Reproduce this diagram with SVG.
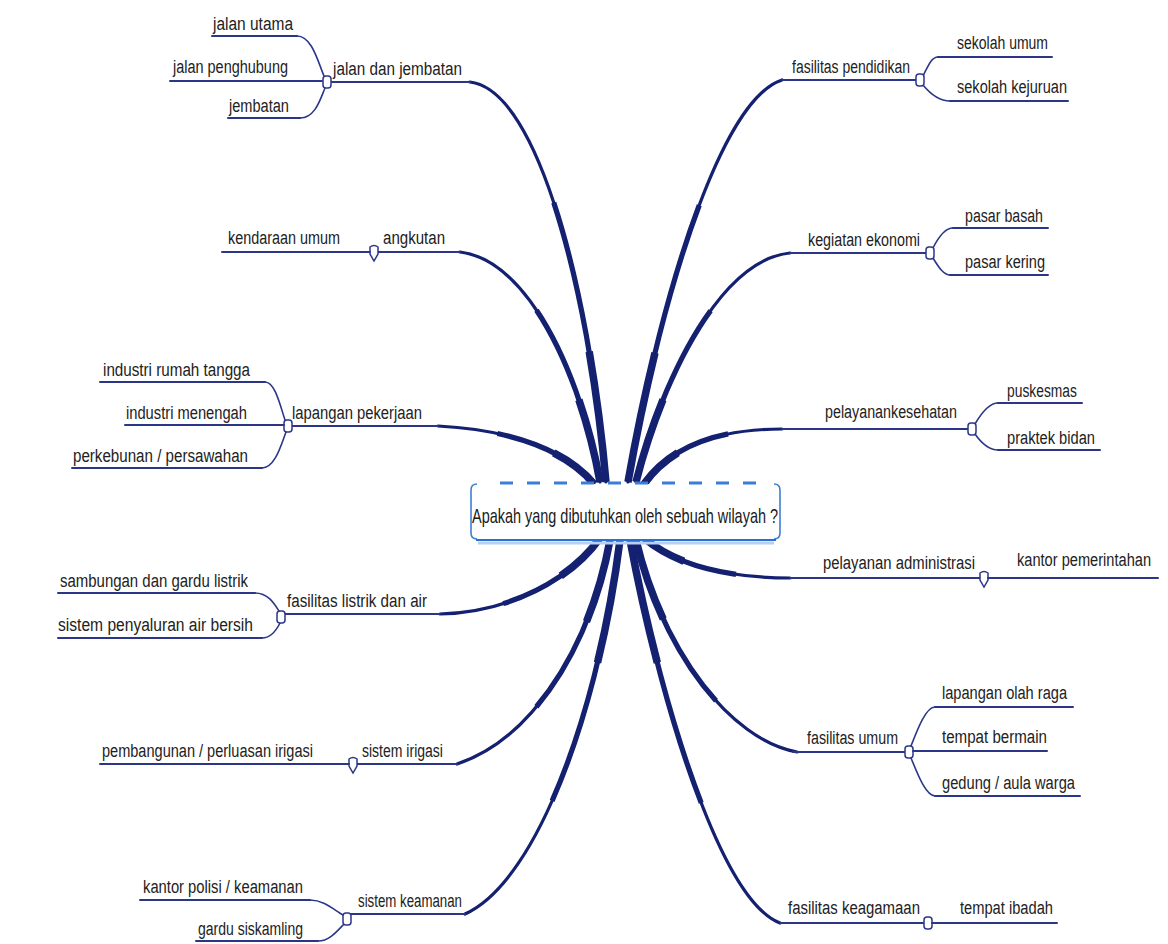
<svg xmlns="http://www.w3.org/2000/svg" width="1168" height="944" viewBox="0 0 1168 944">
<style>
.t{font-family:"Liberation Sans",Arial,sans-serif;font-size:19px;fill:#222;}
.c{font-family:"Liberation Sans",Arial,sans-serif;font-size:20px;fill:#1a1a1a;}
.u{fill:none;stroke:#2c3689;stroke-width:2;stroke-linecap:round;}
.k{fill:none;stroke:#2c3689;stroke-width:1.6;stroke-linecap:round;}
.cn{fill:#fff;stroke:#2c3689;stroke-width:1.5;}
.b1 path{fill:none;stroke:#142070;stroke-width:3.2;stroke-linecap:round;}
.b2 path{fill:none;stroke:#142070;stroke-width:5.2;stroke-dasharray:0 35 65 0;}
.b3 path{fill:none;stroke:#142070;stroke-width:7.5;stroke-dasharray:0 70 30 0;}
</style>
<rect width="1168" height="944" fill="#fff"/>
<g id="connectors">
<g class="b1">
<path d="M470,82 C540,90 590,300 606,482"/>
<path d="M460,252 C530,260 582,380 600,482"/>
<path d="M438,426 C520,430 570,455 594,484"/>
<path d="M440,614 C510,612 570,580 600,538"/>
<path d="M457,764 C530,740 590,650 610,540"/>
<path d="M465,914 C540,880 600,700 620,540"/>
<path d="M782,80 C720,100 660,300 628,482"/>
<path d="M790,253 C720,260 662,380 636,482"/>
<path d="M782,429 C720,429 672,445 644,484"/>
<path d="M790,578 C720,578 672,562 644,538"/>
<path d="M797,752 C730,740 662,650 636,540"/>
<path d="M780,923 C720,900 660,700 630,540"/>
</g>
<g class="b2">
<path pathLength="100" d="M470,82 C540,90 590,300 606,482"/>
<path pathLength="100" d="M460,252 C530,260 582,380 600,482"/>
<path pathLength="100" d="M438,426 C520,430 570,455 594,484"/>
<path pathLength="100" d="M440,614 C510,612 570,580 600,538"/>
<path pathLength="100" d="M457,764 C530,740 590,650 610,540"/>
<path pathLength="100" d="M465,914 C540,880 600,700 620,540"/>
<path pathLength="100" d="M782,80 C720,100 660,300 628,482"/>
<path pathLength="100" d="M790,253 C720,260 662,380 636,482"/>
<path pathLength="100" d="M782,429 C720,429 672,445 644,484"/>
<path pathLength="100" d="M790,578 C720,578 672,562 644,538"/>
<path pathLength="100" d="M797,752 C730,740 662,650 636,540"/>
<path pathLength="100" d="M780,923 C720,900 660,700 630,540"/>
</g>
<g class="b3">
<path pathLength="100" d="M470,82 C540,90 590,300 606,482"/>
<path pathLength="100" d="M460,252 C530,260 582,380 600,482"/>
<path pathLength="100" d="M438,426 C520,430 570,455 594,484"/>
<path pathLength="100" d="M440,614 C510,612 570,580 600,538"/>
<path pathLength="100" d="M457,764 C530,740 590,650 610,540"/>
<path pathLength="100" d="M465,914 C540,880 600,700 620,540"/>
<path pathLength="100" d="M782,80 C720,100 660,300 628,482"/>
<path pathLength="100" d="M790,253 C720,260 662,380 636,482"/>
<path pathLength="100" d="M782,429 C720,429 672,445 644,484"/>
<path pathLength="100" d="M790,578 C720,578 672,562 644,538"/>
<path pathLength="100" d="M797,752 C730,740 662,650 636,540"/>
<path pathLength="100" d="M780,923 C720,900 660,700 630,540"/>
</g>
<g class="k">
<path d="M297,36 C312,36 318,62 324,76"/>
<path d="M300,118 C315,118 320,100 325,88"/>
<path d="M265,382 C275,382 280,405 285,420"/>
<path d="M262,468 C275,468 281,445 286,432"/>
<path d="M255,593 C268,593 274,603 279,611"/>
<path d="M262,638 C272,638 277,629 280,623"/>
<path d="M310,900 C325,900 335,911 343,915"/>
<path d="M318,941 C330,941 338,930 345,923"/>
<path d="M923,76 C929,64 932,57 938,57"/>
<path d="M923,85 C932,96 940,101 950,101"/>
<path d="M933,248 C939,236 945,228 953,228"/>
<path d="M933,258 C939,268 944,275 950,275"/>
<path d="M975,424 C982,412 990,403 998,403"/>
<path d="M975,434 C982,444 990,450 998,450"/>
<path d="M911,746 C918,728 926,707 935,707"/>
<path d="M911,758 C918,775 926,796 935,796"/>
</g>
</g>

<g id="center">
<rect x="471" y="484" width="309" height="56" rx="6" fill="#fff"/>
<path d="M477,484 Q471,484 471,490 L471,533 Q471,539 477,539" fill="none" stroke="#3f7fcf" stroke-width="1.6"/>
<path d="M774,484 Q780,484 780,490 L780,533 Q780,539 774,539" fill="none" stroke="#3f7fcf" stroke-width="1.6"/>
<path d="M478,543 L774,543" stroke="#b5d0f2" stroke-width="3"/>
<path d="M476,540 L776,540" stroke="#2d6fd0" stroke-width="2.2"/>
<path d="M500,483 L768,483" stroke="#3b7dd8" stroke-width="3" stroke-dasharray="13 14"/>
<text class="c" transform="translate(472,523) scale(0.72,1)" textLength="425" lengthAdjust="spacingAndGlyphs">Apakah yang dibutuhkan oleh sebuah wilayah ?</text>
</g>

<g id="n-jalan-dan-jembatan">
<path class="u" d="M331,82 L470,82"/>
<text class="t" transform="translate(333,75) scale(0.78,1)" textLength="165.4" lengthAdjust="spacingAndGlyphs">jalan dan jembatan</text>
<rect class="cn" x="323" y="76" width="8" height="12" rx="3"/>
</g>
<g id="n-jalan-utama"><path class="u" d="M212,36 L297,36"/><text class="t" transform="translate(213,30) scale(0.78,1)" textLength="102.6" lengthAdjust="spacingAndGlyphs">jalan utama</text></g>
<g id="n-jalan-penghubung"><path class="u" d="M170,81 L322,81"/><text class="t" transform="translate(173,73) scale(0.78,1)" textLength="147.4" lengthAdjust="spacingAndGlyphs">jalan penghubung</text></g>
<g id="n-jembatan"><path class="u" d="M228,118 L300,118"/><text class="t" transform="translate(229,112) scale(0.78,1)" textLength="76.9" lengthAdjust="spacingAndGlyphs">jembatan</text></g>

<g id="n-angkutan">
<path class="u" d="M378,252 L460,252"/>
<text class="t" transform="translate(383,244) scale(0.78,1)" textLength="79.5" lengthAdjust="spacingAndGlyphs">angkutan</text>
<path class="cn" d="M370,247 Q374,244 378,247 L378,254 L374,261 L370,254 Z"/>
</g>
<g id="n-kendaraan-umum"><path class="u" d="M222,252 L370,252"/><text class="t" transform="translate(228,244) scale(0.78,1)" textLength="143.6" lengthAdjust="spacingAndGlyphs">kendaraan umum</text></g>

<g id="n-lapangan-pekerjaan">
<path class="u" d="M292,426 L438,426"/>
<text class="t" transform="translate(292,419) scale(0.78,1)" textLength="166.7" lengthAdjust="spacingAndGlyphs">lapangan pekerjaan</text>
<rect class="cn" x="284" y="420" width="8" height="12" rx="3"/>
</g>
<g id="n-industri-rumah-tangga"><path class="u" d="M100,382 L265,382"/><text class="t" transform="translate(103,376) scale(0.78,1)" textLength="188.5" lengthAdjust="spacingAndGlyphs">industri rumah tangga</text></g>
<g id="n-industri-menengah"><path class="u" d="M125,425 L284,425"/><text class="t" transform="translate(126,419) scale(0.78,1)" textLength="155.1" lengthAdjust="spacingAndGlyphs">industri menengah</text></g>
<g id="n-perkebunan"><path class="u" d="M72,468 L262,468"/><text class="t" transform="translate(73,462) scale(0.78,1)" textLength="224.4" lengthAdjust="spacingAndGlyphs">perkebunan / persawahan</text></g>

<g id="n-fasilitas-listrik">
<path class="u" d="M285,614 L440,614"/>
<text class="t" transform="translate(287,607) scale(0.78,1)" textLength="179.5" lengthAdjust="spacingAndGlyphs">fasilitas listrik dan air</text>
<rect class="cn" x="277" y="611" width="8" height="12" rx="3"/>
</g>
<g id="n-sambungan"><path class="u" d="M58,593 L255,593"/><text class="t" transform="translate(60,587) scale(0.78,1)" textLength="241" lengthAdjust="spacingAndGlyphs">sambungan dan gardu listrik</text></g>
<g id="n-penyaluran-air"><path class="u" d="M58,638 L262,638"/><text class="t" transform="translate(58,631) scale(0.78,1)" textLength="250" lengthAdjust="spacingAndGlyphs">sistem penyaluran air bersih</text></g>

<g id="n-sistem-irigasi">
<path class="u" d="M357,764 L457,764"/>
<text class="t" transform="translate(362,757) scale(0.78,1)" textLength="103.8" lengthAdjust="spacingAndGlyphs">sistem irigasi</text>
<path class="cn" d="M349,759 Q353,756 357,759 L357,766 L353,773 L349,766 Z"/>
</g>
<g id="n-pembangunan-irigasi"><path class="u" d="M100,764 L349,764"/><text class="t" transform="translate(102,757) scale(0.78,1)" textLength="270.5" lengthAdjust="spacingAndGlyphs">pembangunan / perluasan irigasi</text></g>

<g id="n-sistem-keamanan">
<path class="u" d="M351,914 L465,914"/>
<text class="t" transform="translate(358,907) scale(0.78,1)" textLength="133.3" lengthAdjust="spacingAndGlyphs">sistem keamanan</text>
<rect class="cn" x="343" y="913" width="8" height="12" rx="3"/>
</g>
<g id="n-kantor-polisi"><path class="u" d="M140,900 L310,900"/><text class="t" transform="translate(143,893) scale(0.78,1)" textLength="205.1" lengthAdjust="spacingAndGlyphs">kantor polisi / keamanan</text></g>
<g id="n-gardu-siskamling"><path class="u" d="M196,941 L318,941"/><text class="t" transform="translate(198,935) scale(0.78,1)" textLength="134.6" lengthAdjust="spacingAndGlyphs">gardu siskamling</text></g>

<g id="n-fasilitas-pendidikan">
<path class="u" d="M782,80 L916,80"/>
<text class="t" transform="translate(792,73) scale(0.78,1)" textLength="151.3" lengthAdjust="spacingAndGlyphs">fasilitas pendidikan</text>
<rect class="cn" x="916" y="74" width="8" height="12" rx="3"/>
</g>
<g id="n-sekolah-umum"><path class="u" d="M938,57 L1052,57"/><text class="t" transform="translate(957,49) scale(0.78,1)" textLength="116.7" lengthAdjust="spacingAndGlyphs">sekolah umum</text></g>
<g id="n-sekolah-kejuruan"><path class="u" d="M950,101 L1068,101"/><text class="t" transform="translate(957,93) scale(0.78,1)" textLength="141" lengthAdjust="spacingAndGlyphs">sekolah kejuruan</text></g>

<g id="n-kegiatan-ekonomi">
<path class="u" d="M790,253 L926,253"/>
<text class="t" transform="translate(808,246) scale(0.78,1)" textLength="143.6" lengthAdjust="spacingAndGlyphs">kegiatan ekonomi</text>
<rect class="cn" x="926" y="247" width="8" height="12" rx="3"/>
</g>
<g id="n-pasar-basah"><path class="u" d="M953,228 L1048,228"/><text class="t" transform="translate(965,222) scale(0.78,1)" textLength="100" lengthAdjust="spacingAndGlyphs">pasar basah</text></g>
<g id="n-pasar-kering"><path class="u" d="M950,275 L1048,275"/><text class="t" transform="translate(965,268) scale(0.78,1)" textLength="102.6" lengthAdjust="spacingAndGlyphs">pasar kering</text></g>

<g id="n-pelayanan-kesehatan">
<path class="u" d="M782,429 L968,429"/>
<text class="t" transform="translate(825,418) scale(0.78,1)" textLength="169.2" lengthAdjust="spacingAndGlyphs">pelayanankesehatan</text>
<rect class="cn" x="968" y="423" width="8" height="12" rx="3"/>
</g>
<g id="n-puskesmas"><path class="u" d="M998,403 L1082,403"/><text class="t" transform="translate(1007,397) scale(0.78,1)" textLength="89.7" lengthAdjust="spacingAndGlyphs">puskesmas</text></g>
<g id="n-praktek-bidan"><path class="u" d="M998,450 L1100,450"/><text class="t" transform="translate(1007,444) scale(0.78,1)" textLength="112.8" lengthAdjust="spacingAndGlyphs">praktek bidan</text></g>

<g id="n-pelayanan-administrasi">
<path class="u" d="M790,578 L980,578"/>
<text class="t" transform="translate(823,569) scale(0.78,1)" textLength="194.9" lengthAdjust="spacingAndGlyphs">pelayanan administrasi</text>
<path class="cn" d="M980,573 Q984,570 988,573 L988,580 L984,587 L980,580 Z"/>
</g>
<g id="n-kantor-pemerintahan"><path class="u" d="M988,578 L1158,578"/><text class="t" transform="translate(1017,566) scale(0.78,1)" textLength="171.8" lengthAdjust="spacingAndGlyphs">kantor pemerintahan</text></g>

<g id="n-fasilitas-umum">
<path class="u" d="M793,752 L905,752"/>
<text class="t" transform="translate(807,744) scale(0.78,1)" textLength="116.7" lengthAdjust="spacingAndGlyphs">fasilitas umum</text>
<rect class="cn" x="905" y="746" width="8" height="12" rx="3"/>
</g>
<g id="n-lapangan-olah-raga"><path class="u" d="M935,707 L1073,707"/><text class="t" transform="translate(942,699) scale(0.78,1)" textLength="160.3" lengthAdjust="spacingAndGlyphs">lapangan olah raga</text></g>
<g id="n-tempat-bermain"><path class="u" d="M913,751 L1047,751"/><text class="t" transform="translate(942,743) scale(0.78,1)" textLength="134.6" lengthAdjust="spacingAndGlyphs">tempat bermain</text></g>
<g id="n-gedung-aula"><path class="u" d="M935,796 L1080,796"/><text class="t" transform="translate(942,789) scale(0.78,1)" textLength="170.5" lengthAdjust="spacingAndGlyphs">gedung / aula warga</text></g>

<g id="n-fasilitas-keagamaan">
<path class="u" d="M780,923 L924,923"/>
<text class="t" transform="translate(788,914) scale(0.78,1)" textLength="169.2" lengthAdjust="spacingAndGlyphs">fasilitas keagamaan</text>
<rect class="cn" x="924" y="917" width="8" height="12" rx="3"/>
</g>
<g id="n-tempat-ibadah"><path class="u" d="M932,923 L1057,923"/><text class="t" transform="translate(960,914) scale(0.78,1)" textLength="119.2" lengthAdjust="spacingAndGlyphs">tempat ibadah</text></g>
</svg>
